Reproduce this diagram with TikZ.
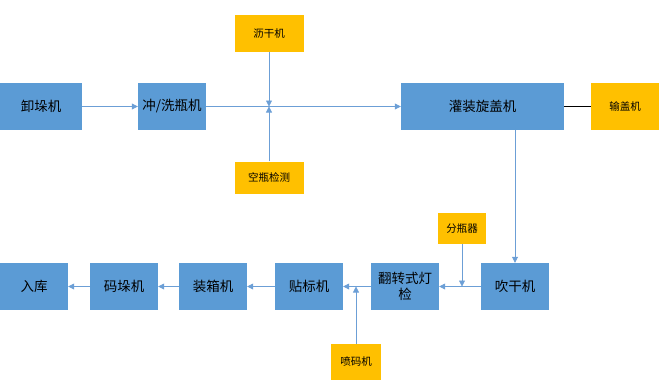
\documentclass[tikz,border=0pt]{standalone}
\usepackage{fontspec}
\setmainfont{Noto Sans CJK SC}
\usetikzlibrary{arrows.meta}
\definecolor{boxblue}{HTML}{5B9BD5}
\definecolor{boxgold}{HTML}{FFC000}
\definecolor{lineblue}{HTML}{6C9FD6}

\begin{document}
\begin{tikzpicture}[x=1pt,y=-1pt,
        bluebox/.style={fill=boxblue,minimum height=47pt,minimum width=68pt,inner sep=0pt,align=center,font=\fontsize{13.5}{16}\selectfont},
        goldbox/.style={fill=boxgold,inner sep=0pt,font=\fontsize{10.5}{12}\selectfont},
        flow/.style={lineblue,line width=0.8pt,-{Triangle[length=6pt,width=6pt]}}]
        \useasboundingbox (0,0) rectangle (661,383);
        \node[bluebox,minimum width=82pt] (unload) at (41,106.5) {卸垛机};
        \node[bluebox] (wash) at (172,106.5) {冲/洗瓶机};
        \node[bluebox,minimum width=163pt] (fill) at (482.5,106.5) {灌装旋盖机};
        \node[goldbox,minimum width=68pt,minimum height=47pt] (capfeed) at (625,106.5) {输盖机};
        \node[goldbox,minimum width=69pt,minimum height=37pt] (drain) at (269,33.5) {沥干机};
        \node[goldbox,minimum width=69pt,minimum height=32pt] (empty) at (269,177.5) {空瓶检测};
        \coordinate (mid) at (269,106.5);
        \node[bluebox] (dry) at (515,286.5) {吹干机};
        \node[bluebox] (inspect) at (405,286.5) {翻转式灯\\检};
        \node[bluebox] (label) at (309,286.5) {贴标机};
        \node[bluebox] (pack) at (213,286.5) {装箱机};
        \node[bluebox] (stack) at (124,286.5) {码垛机};
        \node[bluebox] (store) at (34,286.5) {入库};
        \node[goldbox,minimum width=48pt,minimum height=31pt] (splitter) at (462,228.5) {分瓶器};
        \node[goldbox,minimum width=50pt,minimum height=36pt] (coder) at (356,362) {喷码机};
        \coordinate (split) at (462,286.5);
        \coordinate (code) at (356,286.5);
        \draw[flow] (unload) -- (wash);
        \draw[flow] (wash) -- (fill);
        \draw[flow] (drain) -- (mid);
        \draw[flow] (empty) -- (mid);
        \draw[line width=0.8pt] (fill) -- (capfeed);
        \draw[flow] (fill.south -| dry.north) -- (dry);
        \draw[flow] (dry) -- (inspect);
        \draw[flow] (splitter) -- (split);
        \draw[flow] (inspect) -- (label);
        \draw[flow] (coder) -- (code);
        \draw[flow] (label) -- (pack);
        \draw[flow] (pack) -- (stack);
        \draw[flow] (stack) -- (store);
    \end{tikzpicture}
\end{document}
